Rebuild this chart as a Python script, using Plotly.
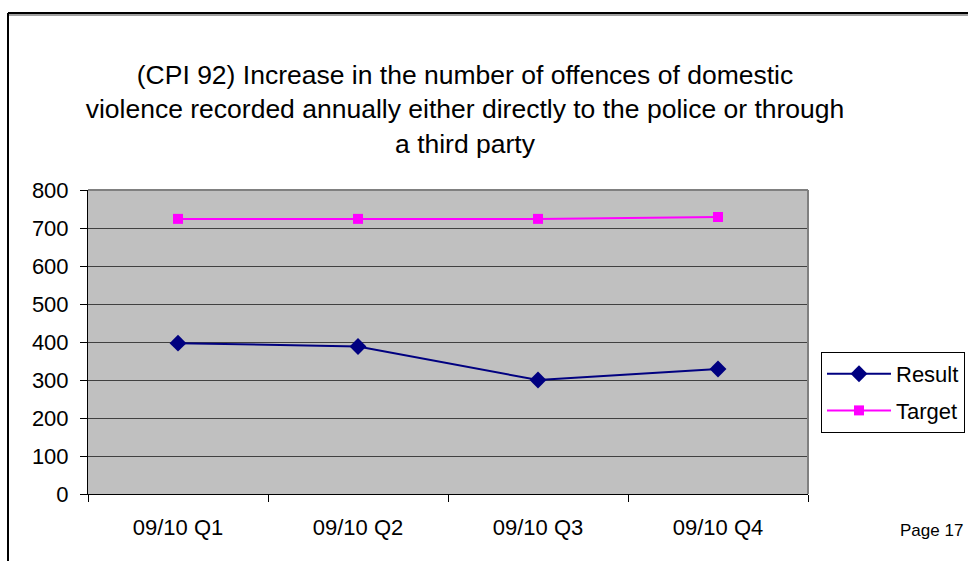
import plotly.graph_objects as go

# Quarterly results against target for CPI 92
quarters = ["09/10 Q1", "09/10 Q2", "09/10 Q3", "09/10 Q4"]
result = [397, 388, 300, 329]
target = [724, 724, 724, 729]
y_ticks = [0, 100, 200, 300, 400, 500, 600, 700, 800]

title_text = ("(CPI 92) Increase in the number of offences of domestic<br>"
              "violence recorded annually either directly to the police or through<br>"
              "a third party")

W, H = 968, 561
L, R, T, B = 88, 160, 190, 67
pw, ph = W - L - R, H - T - B

def px_x(p):
    return (p - L) / pw

def px_y(p):
    return (H - B - p) / ph

FONT = "Arial, Liberation Sans, sans-serif"

fig = go.Figure()
fig.add_trace(go.Scatter(
    x=quarters, y=result, name="Result", mode="lines+markers",
    legendgroup="result",
    line=dict(color="#000080", width=2),
    marker=dict(symbol="diamond", size=13, color="#000080"),
))
fig.add_trace(go.Scatter(
    x=quarters, y=target, name="Target", mode="lines+markers",
    legendgroup="target",
    line=dict(color="#FF00FF", width=2),
    marker=dict(symbol="square", size=10, color="#FF00FF"),
))

shapes = [
    # outer frame (left and top edges)
    dict(type="line", xref="paper", yref="paper", x0=px_x(8), x1=px_x(W + 5),
         y0=px_y(15), y1=px_y(15), line=dict(color="#A0A0A0", width=2)),
    dict(type="line", xref="paper", yref="paper", x0=px_x(8), x1=px_x(8),
         y0=px_y(13), y1=px_y(H + 5), line=dict(color="black", width=2)),
    dict(type="line", xref="paper", yref="paper", x0=px_x(8), x1=px_x(W + 5),
         y0=px_y(13), y1=px_y(13), line=dict(color="black", width=2)),
    # plot area border on top and right
    dict(type="line", xref="paper", yref="paper", x0=0, x1=1, y0=1, y1=1,
         line=dict(color="#808080", width=2)),
    dict(type="line", xref="paper", yref="paper", x0=1, x1=1, y0=0, y1=1,
         line=dict(color="#808080", width=2)),
]

fig.update_layout(
    width=W, height=H,
    margin=dict(l=L, r=R, t=T, b=B, autoexpand=False),
    paper_bgcolor="white",
    plot_bgcolor="#C0C0C0",
    font=dict(family=FONT, color="black"),
    title=dict(text=title_text, x=465 / W, xanchor="center", xref="container",
               y=1 - 84 / H, yanchor="top", yref="container",
               font=dict(size=26.5, family=FONT, color="black")),
    xaxis=dict(
        type="category", range=[-0.5, 3.5], showgrid=False,
        ticks="outside", tickson="boundaries", ticklen=7, tickcolor="black",
        showline=True, linecolor="black", linewidth=1,
        tickfont=dict(size=22, family=FONT, color="black"),
        ticklabelstandoff=14,
        fixedrange=True,
    ),
    yaxis=dict(
        range=[0, 800], tickvals=y_ticks, showgrid=True,
        gridcolor="#404040", gridwidth=1, zeroline=False,
        ticks="outside", ticklen=7, tickcolor="black",
        showline=True, linecolor="black", linewidth=1,
        tickfont=dict(size=22, family=FONT, color="black"),
        ticklabelstandoff=7,
        fixedrange=True,
    ),
    legend=dict(
        x=px_x(821), y=px_y(352), xanchor="left", yanchor="top",
        bordercolor="black", borderwidth=1, bgcolor="white",
        font=dict(size=22, family=FONT, color="black"),
        itemwidth=64, tracegroupgap=5, entrywidth=90,
    ),
    shapes=shapes,
    annotations=[dict(
        text="Page 17", xref="paper", yref="paper", x=px_x(931), y=px_y(530),
        xanchor="center", yanchor="middle", showarrow=False,
        font=dict(size=17, family=FONT, color="black"),
    )],
)

fig.write_html("out.html")
